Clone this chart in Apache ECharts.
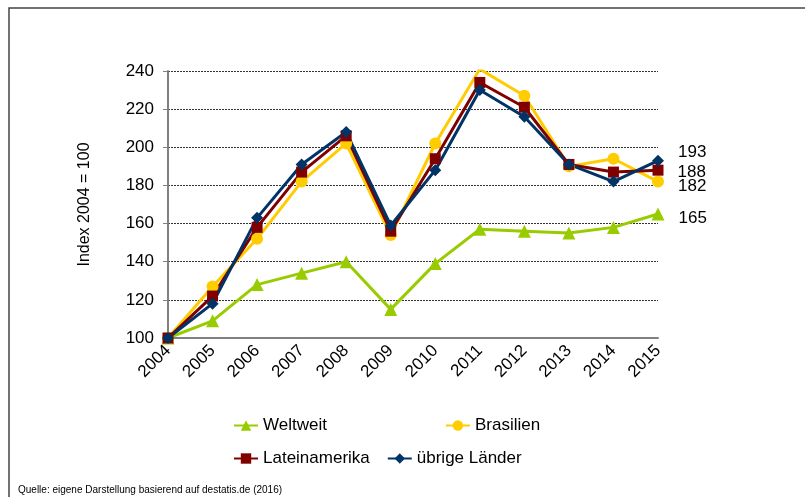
<!DOCTYPE html>
<html>
<head>
<meta charset="utf-8">
<script src="https://cdn.jsdelivr.net/npm/echarts@6/dist/echarts.min.js"></script>
<style>
  html, body { margin: 0; padding: 0; background: #fff; }
  #chart { width: 805px; height: 497px; }
</style>
</head>
<body>
<div id="chart"></div>
<script>
(() => {

    // Jahre (x-Achse)
    var years = ['2004', '2005', '2006', '2007', '2008', '2009', '2010', '2011', '2012', '2013', '2014', '2015'];

    // Index 2004 = 100
    var weltweit = [100, 109, 128, 134, 140, 115, 139, 157, 156, 155, 158, 165];
    var brasilien = [100, 127, 152, 182, 202, 154, 202, 241, 227, 190, 194, 182];
    var lateinamerika = [100, 122, 158, 187, 206, 156, 194, 234, 221, 191, 187, 188];
    var uebrige = [100, 118, 163, 191, 208, 159, 188, 230, 216, 191, 182, 193];

    var yTicks = { min: 100, max: 240, step: 20 };

    var font = '"Liberation Sans", Arial, sans-serif';

    // Serien-Einstellungen
    var seriesSettings = [
        { name: 'Weltweit', data: weltweit, color: '#99CC00', symbol: 'triangle', size: 13, labelOffset: [0, 4] },
        { name: 'Brasilien', data: brasilien, color: '#FFCC00', symbol: 'circle', size: 12, labelOffset: [0, 5] },
        { name: 'Lateinamerika', data: lateinamerika, color: '#800000', symbol: 'rect', size: 11, labelOffset: [0, 2] },
        { name: 'übrige Länder', data: uebrige, color: '#003366', symbol: 'diamond', size: 12, labelOffset: [0, -8] }
    ];

    // letzter Punkt bekommt die Beschriftung
    let buildData = (s) => s.data.map((v, i) => {
        if (i !== s.data.length - 1) return v;
        return {
            value: v,
            label: {
                show: true,
                position: 'right',
                distance: 14,
                offset: s.labelOffset,
                color: '#000',
                fontSize: 17,
                fontFamily: font,
                formatter: '{c}'
            }
        };
    });

    let series = seriesSettings.map(s => ({
        name: s.name,
        type: 'line',
        data: buildData(s),
        symbol: s.symbol,
        symbolSize: s.size,
        showAllSymbol: true,
        itemStyle: { color: s.color },
        lineStyle: { color: s.color, width: 3 },
        animation: false
    }));

    let legendText = { fontSize: 17, fontFamily: font, color: '#000' };

    let option = {
        backgroundColor: '#fff',
        grid: { left: 168, right: 147, top: 71, bottom: 159 },
        legend: [{
            data: ['Weltweit', 'Brasilien'],
            left: 228, top: 412,
            itemWidth: 24, itemHeight: 13,
            itemGap: 118,
            textStyle: legendText
        }, {
            data: ['Lateinamerika', 'übrige Länder'],
            left: 228, top: 445,
            itemWidth: 24, itemHeight: 13,
            itemGap: 17,
            textStyle: legendText
        }],
        xAxis: {
            type: 'category',
            data: years,
            boundaryGap: false,
            axisLine: { lineStyle: { color: '#808080', width: 2 } },
            axisTick: { show: false },
            axisLabel: { rotate: 45, margin: 10, fontSize: 17, fontFamily: font, color: '#000', interval: 0 },
            splitLine: { show: false }
        },
        yAxis: {
            type: 'value',
            min: yTicks.min,
            max: yTicks.max,
            interval: yTicks.step,
            name: 'Index 2004 = 100',
            nameLocation: 'middle',
            nameGap: 75,
            nameTextStyle: { fontSize: 16, fontFamily: font, color: '#000' },
            axisLine: { show: true, lineStyle: { color: '#808080', width: 2 } },
            axisTick: { show: true, length: 5, lineStyle: { color: '#808080' } },
            axisLabel: { margin: 14, fontSize: 17, fontFamily: font, color: '#000' },
            splitLine: { lineStyle: { color: '#333', type: [2, 1], width: 1 } }
        },
        graphic: [{
            type: 'rect',
            shape: { x: 9, y: 8, width: 900, height: 600 },
            style: { fill: 'none', stroke: '#444', lineWidth: 1.5 },
            silent: true
        }, {
            type: 'text',
            left: 18, top: 485,
            style: { text: 'Quelle: eigene Darstellung basierend auf destatis.de (2016)', fontSize: 10, fontFamily: font, fill: '#000' }
        }],
        series: series
    };

    var myChart = echarts.init(document.getElementById('chart'), null, { renderer: 'canvas' });
    myChart.setOption(option);

})();
</script>
</body>
</html>
